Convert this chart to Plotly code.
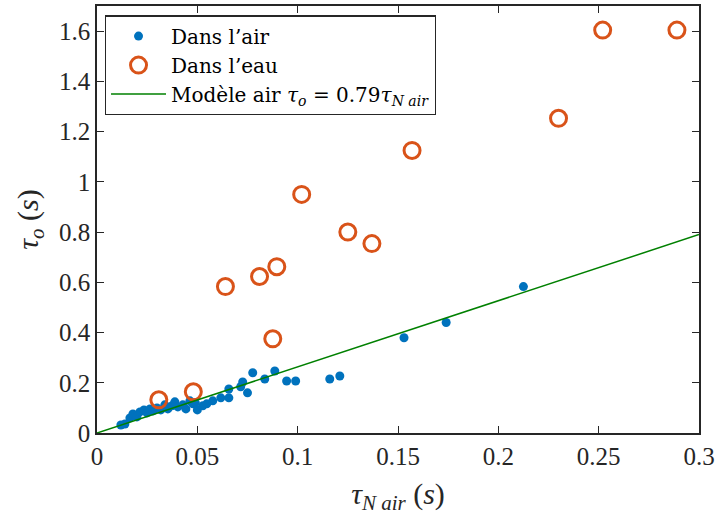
import plotly.graph_objects as go

# Data: air measurements
air_x = [0.0119, 0.0139, 0.0164, 0.0179, 0.0199, 0.0214, 0.0234, 0.0249, 0.0264, 0.0279,
         0.0299, 0.0318, 0.0338, 0.0353, 0.0373, 0.0388, 0.0403, 0.0428, 0.0443, 0.0463,
         0.0478, 0.049, 0.050, 0.0527, 0.0547, 0.0577, 0.0617, 0.0657, 0.0657, 0.0716,
         0.0726, 0.075, 0.0776, 0.0836, 0.0886, 0.0945, 0.099, 0.116, 0.121, 0.153,
         0.174, 0.2125]
air_y = [0.032, 0.036, 0.060, 0.076, 0.064, 0.084, 0.092, 0.080, 0.096, 0.088,
         0.100, 0.092, 0.112, 0.096, 0.108, 0.124, 0.104, 0.112, 0.096, 0.128,
         0.116, 0.120, 0.092, 0.108, 0.116, 0.128, 0.140, 0.140, 0.175, 0.184,
         0.203, 0.160, 0.240, 0.215, 0.247, 0.207, 0.207, 0.215, 0.227, 0.379,
         0.440, 0.583]

# Data: water measurements
eau_x = [0.0308, 0.048, 0.064, 0.081, 0.0896, 0.0876, 0.102, 0.125, 0.137, 0.157, 0.230, 0.252, 0.289]
eau_y = [0.132, 0.164, 0.583, 0.623, 0.662, 0.375, 0.950, 0.800, 0.754, 1.125, 1.253, 1.604, 1.604]

# Model line
model_x = [0.0, 0.3]
model_y = [0.0, 0.79]

x_ticks = [0, 0.05, 0.1, 0.15, 0.2, 0.25, 0.3]
x_labels = ["0", "0.05", "0.1", "0.15", "0.2", "0.25", "0.3"]
y_ticks = [0, 0.2, 0.4, 0.6, 0.8, 1.0, 1.2, 1.4, 1.6]
y_labels = ["0", "0.2", "0.4", "0.6", "0.8", "1", "1.2", "1.4", "1.6"]

FONT = "Liberation Serif"
LFONT = "DejaVu Serif"
AX = "#262626"

fig = go.Figure()
fig.add_trace(go.Scatter(x=air_x, y=air_y, mode="markers", name="Dans l’air",
                         marker=dict(color="#0072BD", size=9, line=dict(width=0))))
fig.add_trace(go.Scatter(x=eau_x, y=eau_y, mode="markers", name="Dans l’eau",
                         marker=dict(color="rgba(0,0,0,0)", size=16, symbol="circle",
                                     line=dict(color="#D95319", width=3))))
fig.add_trace(go.Scatter(x=model_x, y=model_y, mode="lines",
                         name="Modèle air <i>τ</i><sub><i>o</i></sub> = 0.79<i>τ</i><sub><i>N air</i></sub>",
                         line=dict(color="#008000", width=1.5)))

fig.update_layout(
    width=718, height=515,
    margin=dict(l=97, r=19, t=6, b=82, autoexpand=False),
    paper_bgcolor="white", plot_bgcolor="white",
    font=dict(family=FONT, size=22, color=AX),
    showlegend=True,
    legend=dict(x=0.013, y=0.978, xanchor="left", yanchor="top",
                bgcolor="white", bordercolor=AX, borderwidth=1.2,
                font=dict(family=LFONT, size=20, color="#000000"),
                itemsizing="trace", itemwidth=55, tracegroupgap=0),
)
fig.update_xaxes(range=[0, 0.3], tickvals=x_ticks, ticktext=x_labels,
                 ticks="inside", ticklen=7, tickcolor=AX, tickwidth=1,
                 showline=True, linecolor=AX, linewidth=1.5, mirror="ticks",
                 showgrid=False, zeroline=False,
                 tickfont=dict(family=FONT, size=25, color=AX),
                 title=dict(text="<i>τ</i><sub><i>N air</i></sub> (<i>s</i>)",
                            font=dict(family=FONT, size=30, color=AX), standoff=17))
fig.update_yaxes(range=[0, 1.7], tickvals=y_ticks, ticktext=y_labels,
                 ticks="inside", ticklen=7, tickcolor=AX, tickwidth=1,
                 showline=True, linecolor=AX, linewidth=1.5, mirror="ticks",
                 showgrid=False, zeroline=False,
                 tickfont=dict(family=FONT, size=25, color=AX),
                 title=dict(text="<i>τ</i><sub><i>o</i></sub> (<i>s</i>)",
                            font=dict(family=FONT, size=30, color=AX), standoff=12))

fig.write_html("out.html", config={"displayModeBar": False},
               post_script="document.body.style.margin='0';")
